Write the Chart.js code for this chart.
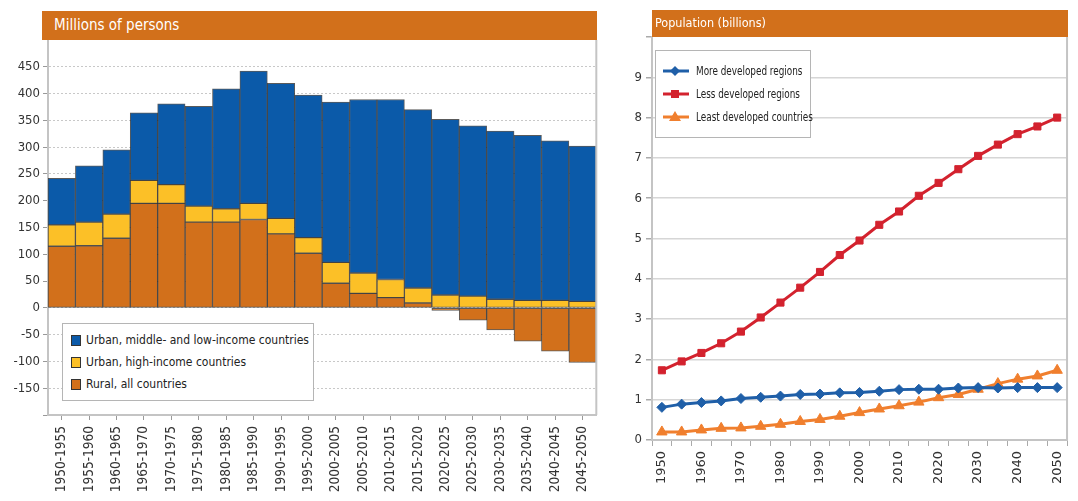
<!DOCTYPE html>
<html><head><meta charset="utf-8">
<script src="https://cdn.jsdelivr.net/npm/chart.js@4.4.1/dist/chart.umd.min.js"></script>
<style>
body{margin:0;width:1078px;height:501px;background:#fff;overflow:hidden;position:relative;font-family:'DejaVu Sans Condensed','DejaVu Sans',sans-serif;}
.cw{position:absolute;top:0;height:501px;}
.hdr{position:absolute;background:#d2701b;color:#fff;white-space:nowrap;}
.leg{position:absolute;background:#fff;border:1px solid #b5b5b5;color:#222;}
.li{position:absolute;left:0;white-space:nowrap;display:flex;align-items:center;}
.sq{display:inline-block;width:8px;height:9px;border:1px solid #333;margin-right:5px;}
</style></head><body>
<div class="cw" style="left:0;width:605px;"><canvas id="c1" width="605" height="501"></canvas></div>
<div class="cw" style="left:620px;width:458px;"><canvas id="c2" width="458" height="501"></canvas></div>
<div class="hdr" style="left:42px;top:11px;width:555px;height:29px;"><span style="position:absolute;left:12px;top:5px;font-size:15px;">Millions of persons</span></div>
<div class="hdr" style="left:652px;top:10px;width:416px;height:27px;"><span style="position:absolute;left:3px;top:5px;font-size:12.5px;">Population (billions)</span></div>
<div class="leg" id="leg1" style="left:62px;top:323px;width:250px;height:76px;"></div>
<div class="leg" id="leg2" style="left:655px;top:50px;width:154px;height:86px;"></div>
<script>
// ---- Left chart data (millions of persons, per 5-year period) ----
const periods = ['1950-1955','1955-1960','1960-1965','1965-1970','1970-1975','1975-1980','1980-1985','1985-1990','1990-1995','1995-2000','2000-2005','2005-2010','2010-2015','2015-2020','2020-2025','2025-2030','2030-2035','2035-2040','2040-2045','2045-2050'];
const urbanLowMid = [87,105,120,126,151,186,224,247,252,266,299,324,336,333,328,318,314,308,298,290];
const urbanHigh = [40,44,45,43,35,30,25,30,29,29,39,38,34,28,24,22,16,14,14,12];
const ruralAll = [115,116,130,195,195,160,160,165,138,102,46,27,19,9,-5,-23,-41,-62,-81,-102];
const leftLabels = ['Urban, middle- and low-income countries','Urban, high-income countries','Rural, all countries'];

// ---- Right chart data (population, billions) ----
const years = ['1950','1955','1960','1965','1970','1975','1980','1985','1990','1995','2000','2005','2010','2015','2020','2025','2030','2035','2040','2045','2050'];
const moreDeveloped = [0.81,0.89,0.93,0.97,1.03,1.06,1.09,1.13,1.14,1.17,1.18,1.21,1.25,1.26,1.26,1.29,1.30,1.29,1.30,1.30,1.30];
const lessDeveloped = [1.73,1.95,2.16,2.40,2.69,3.04,3.41,3.78,4.17,4.59,4.95,5.34,5.67,6.06,6.38,6.72,7.05,7.33,7.59,7.78,8.00];
const leastDeveloped = [0.20,0.20,0.25,0.29,0.30,0.34,0.39,0.46,0.51,0.59,0.68,0.77,0.85,0.94,1.05,1.13,1.26,1.40,1.51,1.59,1.73];
const rightLabels = ['More developed regions','Less developed regions','Least developed countries'];

const C_BLUE='#0b5aa9', C_YEL='#fcc027', C_ORG='#d2701b';
const L_BLUE='#1f5fa8', L_RED='#d3222e', L_ORG='#f07f2e';
const FONT="'DejaVu Sans Condensed','DejaVu Sans',sans-serif";
const FONT_W="'DejaVu Sans',sans-serif";

const frame = {id:'frame', afterDraw(ch){const a=ch.chartArea,c=ch.ctx;c.save();c.strokeStyle='#c4c4c4';c.lineWidth=2;c.beginPath();c.moveTo(a.right,a.top);c.lineTo(a.right,a.bottom);c.stroke();c.restore();}};

new Chart(document.getElementById('c1'),{
  type:'bar',
  data:{labels:periods,datasets:[
    {label:leftLabels[2],data:ruralAll,backgroundColor:C_ORG},
    {label:leftLabels[1],data:urbanHigh,backgroundColor:C_YEL},
    {label:leftLabels[0],data:urbanLowMid,backgroundColor:C_BLUE}
  ].map(d=>Object.assign(d,{borderColor:'rgba(35,35,35,0.75)',borderWidth:1,borderSkipped:false,barPercentage:1,categoryPercentage:1}))},
  options:{responsive:false,animation:false,devicePixelRatio:1,
    layout:{padding:{top:40,right:8,left:0,bottom:0}},
    plugins:{legend:{display:false},tooltip:{enabled:false}},
    scales:{
      x:{stacked:true,afterFit(s){s.height=86;},
        grid:{offset:false,drawOnChartArea:false,tickLength:5,color:'#999'},
        border:{color:'#c4c4c4',width:2},
        ticks:{autoSkip:false,minRotation:90,maxRotation:90,padding:6,color:'#333',font:{family:FONT,size:13.5}}},
      y:{stacked:true,min:-200,max:500,afterFit(s){s.width=48;},
        grid:{color:c=>(c.tick&&c.tick.value>=500)?'rgba(0,0,0,0)':'#c8c8c8',lineWidth:1,tickLength:5,
              tickColor:c=>(c.tick&&c.tick.value>=500)?'rgba(0,0,0,0)':'#999'},
        border:{color:'#c4c4c4',width:2,dash:[2,2]},
        ticks:{stepSize:50,padding:3,color:'#333',font:{family:FONT,size:13},
          callback:v=>(v>=500||v<=-200)?'':v}}
    }},
  plugins:[frame]
});

new Chart(document.getElementById('c2'),{
  type:'line',
  data:{labels:years,datasets:[
    {label:rightLabels[0],data:moreDeveloped,borderColor:L_BLUE,backgroundColor:L_BLUE,pointStyle:'rectRot',pointRadius:5},
    {label:rightLabels[1],data:lessDeveloped,borderColor:L_RED,backgroundColor:L_RED,pointStyle:'rect',pointRadius:5},
    {label:rightLabels[2],data:leastDeveloped,borderColor:L_ORG,backgroundColor:L_ORG,pointStyle:'triangle',pointRadius:6}
  ].map(d=>Object.assign(d,{borderWidth:3,pointBorderWidth:1,tension:0}))},
  options:{responsive:false,animation:false,devicePixelRatio:1,
    layout:{padding:{top:37,right:10,left:0,bottom:0}},
    plugins:{legend:{display:false},tooltip:{enabled:false}},
    scales:{
      x:{offset:true,afterFit(s){s.height=61;},
        grid:{offset:true,drawOnChartArea:false,tickLength:6,color:'#aaa'},
        border:{color:'#c4c4c4',width:2},
        ticks:{autoSkip:false,minRotation:90,maxRotation:90,padding:5,color:'#333',font:{family:FONT_W,size:13},
          callback:function(v,i){return i%2===0?this.getLabelForValue(v):'';}}},
      y:{min:0,max:10,afterFit(s){s.width=32;},
        grid:{color:c=>(c.tick&&c.tick.value>=10)?'rgba(0,0,0,0)':'#d6d6d6',lineWidth:1.5,tickLength:6,tickColor:'#aaa'},
        border:{color:'#c4c4c4',width:2},
        ticks:{stepSize:1,padding:4,color:'#333',font:{family:FONT,size:13},callback:v=>v>=10?'':v}}
    }},
  plugins:[frame]
});

// legends
const l1=document.getElementById('leg1');
[[leftLabels[0],C_BLUE],[leftLabels[1],C_YEL],[leftLabels[2],C_ORG]].forEach((it,i)=>{
  const d=document.createElement('div');d.className='li';d.style.left='8px';d.style.top=(9+i*22)+'px';
  d.innerHTML='<span class="sq" style="background:'+it[1]+'"></span><span style="font-size:12px;">'+it[0]+'</span>';l1.appendChild(d);
});
const l2=document.getElementById('leg2');
const marks=[
 '<polygon points="13,2 18,7 13,12 8,7" fill="'+L_BLUE+'"/>',
 '<rect x="9" y="3" width="8" height="8" fill="'+L_RED+'"/>',
 '<polygon points="13,1 19,11 7,11" fill="'+L_ORG+'"/>'];
[[rightLabels[0],L_BLUE],[rightLabels[1],L_RED],[rightLabels[2],L_ORG]].forEach((it,i)=>{
  const d=document.createElement('div');d.className='li';d.style.left='6px';d.style.top=(13+i*23)+'px';
  d.innerHTML='<svg width="28" height="14" style="margin-right:6px"><line x1="1" y1="7" x2="27" y2="7" stroke="'+it[1]+'" stroke-width="3"/>'+marks[i]+'</svg><span style="font-size:12px;display:inline-block;transform:scaleX(0.82);transform-origin:left center;">'+it[0]+'</span>';
  l2.appendChild(d);
});
</script></body></html>
